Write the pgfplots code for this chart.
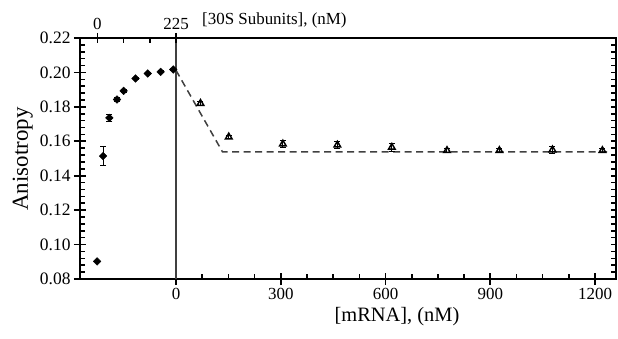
\documentclass[border=0pt]{standalone}
\usepackage{pgfplots}
\pgfplotsset{compat=1.18}
\usepackage{pgfplotstable}
\usepackage{fontspec}
\setmainfont{Liberation Serif}

\pgfplotstableread{
x y e
-226 0.0902 0
-209 0.1514 0.0055
-191 0.1736 0.0022
-169 0.1843 0.0012
-150 0.1893 0.0008
-116 0.1965 0.0006
-81 0.1994 0.0006
-44 0.2003 0.0006
-8 0.2017 0.0006
}\diamonds

\pgfplotstableread{
x y e
70 0.1820 0.0010
151 0.1625 0.0010
306 0.1584 0.0020
462 0.1578 0.0020
618 0.1565 0.0025
776 0.1546 0.0010
926 0.1546 0.0010
1078 0.1550 0.0022
1221 0.1546 0.0010
}\triangles

\begin{document}
\begin{tikzpicture}
\pgfplotsset{base/.style={scale only axis, width=536bp, height=241bp,
  xmin=-275, xmax=1260, ymin=0.08, ymax=0.22, at={(0,0)}, anchor=south west,
  /pgf/number format/assume math mode=true,
  /pgf/number format/1000 sep={},
  every tick/.style={black, line width=1.6bp}}}
% main axis
\begin{axis}[base,
  axis line style={line width=2.4bp},
  xtick={0,300,600,900,1200}, xtick pos=bottom,
  ytick={0.08,0.10,0.12,0.14,0.16,0.18,0.20,0.22}, ytick pos=left,
  tick align=center, major tick length=12bp,
  scaled y ticks=false,
  yticklabel style={/pgf/number format/fixed, /pgf/number format/fixed zerofill,
    /pgf/number format/precision=2, font=\fontsize{17.5}{20}\selectfont},
  xticklabel style={font=\fontsize{17}{20}\selectfont},
  error bars/error bar style={line width=1bp, black},
  error bars/error mark options={rotate=90, mark size=3bp, line width=1bp, black},
]
\addplot[line width=1.2bp, black!75] coordinates {(0,0.08) (0,0.22)};
\addplot[line width=1.5bp, black!75, dash pattern=on 7bp off 4.5bp] coordinates {(0,0.2012) (133,0.1539) (1235,0.1539)};
\addplot[only marks, mark=square*, mark size=2.7bp, black,
  mark options={rotate=45, fill=black},
  error bars/.cd, y dir=both, y explicit]
  table[x=x, y=y, y error=e] {\diamonds};
\addplot[only marks, mark=triangle, mark size=3.8bp, black,
  mark options={line width=1.5bp, fill=white},
  error bars/.cd, y dir=both, y explicit]
  table[x=x, y=y, y error=e] {\triangles};
\end{axis}
% minor ticks bottom and left
\begin{axis}[base, axis line style={draw=none},
  xtick={75,150,225,375,450,525,675,750,825,975,1050,1125}, xtick pos=bottom,
  ytick={0.084,0.088,0.092,0.096,0.104,0.108,0.112,0.116,0.124,0.128,0.132,0.136,0.144,0.148,0.152,0.156,0.164,0.168,0.172,0.176,0.184,0.188,0.192,0.196,0.204,0.208,0.212,0.216},
  ytick pos=left, xticklabels={}, yticklabels={},
  tick align=inside, major tick length=5bp]
\end{axis}
% right ticks and top minor ticks
\begin{axis}[base, axis line style={draw=none},
  xtick={-150,-75}, xtick pos=top,
  ytick={0.084,0.088,0.092,0.096,0.10,0.104,0.108,0.112,0.116,0.12,0.124,0.128,0.132,0.136,0.14,0.144,0.148,0.152,0.156,0.16,0.164,0.168,0.172,0.176,0.18,0.184,0.188,0.192,0.196,0.20,0.204,0.208,0.212,0.216},
  ytick pos=right, xticklabels={}, yticklabels={},
  tick align=inside, major tick length=5bp]
\end{axis}
% top major ticks
\begin{axis}[base, axis line style={draw=none},
  xtick={-225,0}, xticklabels={0,225}, xtick pos=top, xticklabel pos=top,
  ytick=\empty, tick align=center, major tick length=10bp,
  xticklabel style={font=\fontsize{17}{20}\selectfont}]
\end{axis}
\node[anchor=base west, font=\fontsize{17}{20}\selectfont, inner sep=0pt] at (122bp,254bp) {[30S Subunits], (nM)};
\node[anchor=base, font=\fontsize{20.5}{24}\selectfont, inner sep=0pt] at (317bp,-42bp) {[mRNA], (nM)};
\node[anchor=base, rotate=90, font=\fontsize{23}{26}\selectfont, inner sep=0pt] at (-52bp,120bp) {Anisotropy};
\pgfresetboundingbox
\path (-80bp,-60bp) rectangle (538bp,279bp);
\end{tikzpicture}
\end{document}
